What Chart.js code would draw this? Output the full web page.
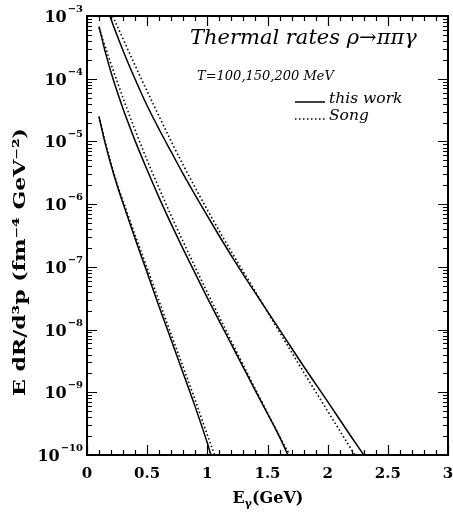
<!DOCTYPE html>
<html>
<head>
    <title>Thermal rates rho -> pi pi gamma</title>
    <script src="https://cdn.jsdelivr.net/npm/chart.js"></script>
    <style>
        body { margin: 0; background: #fff; }
    </style>
</head>
<body>
    <canvas id="rateChart" width="453" height="516"></canvas>

    <script>
        // photon energy (GeV) and rates E dR/d3p (fm^-4 GeV^-2)
        var eT100 = [0.10, 0.15, 0.20, 0.25, 0.30, 0.40, 0.50, 0.60, 0.70, 0.80, 0.90, 1.00, 1.03];
        var thisWorkT100 = [2.45e-5, 9.5e-6, 4.2e-6, 2.0e-6, 1.02e-6, 2.8e-7, 8.1e-8, 2.3e-8, 6.8e-9, 2.0e-9, 5.8e-10, 1.55e-10, 1.0e-10];
        var eSongT100 = [0.10, 0.15, 0.20, 0.25, 0.30, 0.40, 0.50, 0.60, 0.70, 0.80, 0.90, 1.00, 1.06];
        var songT100 = [2.5e-5, 1.0e-5, 4.4e-6, 2.1e-6, 1.12e-6, 3.2e-7, 9.5e-8, 2.8e-8, 8.3e-9, 2.5e-9, 7.4e-10, 2.1e-10, 1.0e-10];

        var eT150 = [0.10, 0.15, 0.20, 0.25, 0.30, 0.35, 0.40, 0.50, 0.60, 0.70, 0.80, 0.90, 1.00, 1.20, 1.40, 1.60, 1.67];
        var thisWorkT150 = [6.8e-4, 2.75e-4, 1.26e-4, 6.3e-5, 3.3e-5, 1.82e-5, 1.02e-5, 3.5e-6, 1.26e-6, 4.8e-7, 1.9e-7, 7.8e-8, 3.2e-8, 5.8e-9, 1.05e-9, 1.95e-10, 1.0e-10];
        var eSongT150 = [0.10, 0.15, 0.20, 0.25, 0.30, 0.35, 0.40, 0.50, 0.60, 0.70, 0.80, 0.90, 1.00, 1.20, 1.40, 1.60, 1.685];
        var songT150 = [6.5e-4, 3.3e-4, 1.7e-4, 9.1e-5, 4.9e-5, 2.7e-5, 1.51e-5, 5.0e-6, 1.78e-6, 6.5e-7, 2.5e-7, 9.8e-8, 3.9e-8, 6.5e-9, 1.12e-9, 2.0e-10, 1.0e-10];

        var eT200 = [0.10, 0.20, 0.30, 0.40, 0.50, 0.60, 0.70, 0.80, 0.90, 1.00, 1.20, 1.40, 1.60, 1.80, 2.00, 2.20, 2.30];
        var thisWorkT200 = [3.5e-3, 8.9e-4, 2.8e-4, 9.8e-5, 3.7e-5, 1.55e-5, 6.8e-6, 3.0e-6, 1.38e-6, 6.5e-7, 1.5e-7, 3.8e-8, 1.0e-8, 2.6e-9, 7.1e-10, 1.9e-10, 1.0e-10];
        var eSongT200 = [0.10, 0.20, 0.30, 0.40, 0.50, 0.60, 0.70, 0.80, 0.90, 1.00, 1.20, 1.40, 1.60, 1.80, 2.00, 2.20, 2.225];
        var songT200 = [4.0e-3, 1.17e-3, 4.3e-4, 1.62e-4, 6.3e-5, 2.5e-5, 1.0e-5, 4.2e-6, 1.82e-6, 8.1e-7, 1.74e-7, 4.0e-8, 9.1e-9, 2.1e-9, 5.0e-10, 1.2e-10, 1.0e-10];

        var xTickValues = [0, 0.5, 1, 1.5, 2, 2.5, 3];
        var xTickLabels = ['0', '0.5', '1', '1.5', '2', '2.5', '3'];
        var yTickExponents = [-3, -4, -5, -6, -7, -8, -9, -10];

        function pairs(xs, ys) {
            return xs.map(function(x, i) { return { x: x, y: ys[i] }; });
        }

        function curve(label, xs, ys, dotted) {
            return {
                label: label,
                data: pairs(xs, ys),
                showLine: true,
                borderColor: '#000',
                borderWidth: dotted ? 1.6 : 1.5,
                borderDash: dotted ? [1.5, 2.5] : [],
                pointRadius: 0,
                cubicInterpolationMode: 'monotone',
                fill: false
            };
        }

        // frame, inward ticks, labels and annotations
        var framePlugin = {
            id: 'frame',
            afterDraw: function(chart) {
                var ctx = chart.ctx;
                var a = chart.chartArea;
                var xs = chart.scales.x;
                var ys = chart.scales.y;
                ctx.save();
                ctx.strokeStyle = '#000';
                ctx.fillStyle = '#000';

                ctx.lineWidth = 1.2;
                ctx.beginPath();
                // x ticks, bottom and top
                for (var i = 0; i <= 30; i++) {
                    var v = i / 10;
                    var px = Math.round(xs.getPixelForValue(v)) + 0.5;
                    var len = (i % 5 === 0) ? 10 : 5;
                    ctx.moveTo(px, a.bottom); ctx.lineTo(px, a.bottom - len);
                    ctx.moveTo(px, a.top); ctx.lineTo(px, a.top + len);
                }
                // y ticks, left and right
                yTickExponents.forEach(function(e) {
                    for (var m = 1; m <= 9; m++) {
                        var val = m * Math.pow(10, e);
                        if (val > 1.0001e-3) continue;
                        var py = Math.round(ys.getPixelForValue(val)) + 0.5;
                        var len = (m === 1) ? 10 : 5;
                        ctx.moveTo(a.left, py); ctx.lineTo(a.left + len, py);
                        ctx.moveTo(a.right, py); ctx.lineTo(a.right - len, py);
                    }
                });
                ctx.stroke();

                ctx.lineWidth = 2;
                ctx.strokeRect(a.left, a.top, a.right - a.left, a.bottom - a.top);

                // x tick labels
                ctx.font = 'bold 15px "DejaVu Serif"';
                ctx.textAlign = 'center';
                ctx.textBaseline = 'alphabetic';
                xTickValues.forEach(function(v, i) {
                    ctx.fillText(xTickLabels[i], xs.getPixelForValue(v), 478);
                });

                // y tick labels 10^e
                yTickExponents.forEach(function(e) {
                    var py = ys.getPixelForValue(Math.pow(10, e));
                    ctx.font = 'bold 10px "DejaVu Serif"';
                    ctx.textAlign = 'right';
                    var sup = '\u2212' + Math.abs(e);
                    var supW = ctx.measureText(sup).width;
                    ctx.fillText(sup, 83, py - 4);
                    ctx.font = 'bold 16px "DejaVu Serif"';
                    ctx.fillText('10', 83 - supW - 1, py + 6);
                });

                // x axis title E_gamma(GeV)
                ctx.font = 'bold 16px "DejaVu Serif"';
                ctx.textAlign = 'left';
                var wE = ctx.measureText('E').width;
                var wRest = ctx.measureText('(GeV)').width;
                ctx.font = 'bold 11px "DejaVu Serif"';
                var wG = ctx.measureText('\u03b3').width;
                var x0 = 268 - (wE + wG + wRest) / 2;
                ctx.font = 'bold 16px "DejaVu Serif"';
                ctx.fillText('E', x0, 503);
                ctx.fillText('(GeV)', x0 + wE + wG, 503);
                ctx.font = 'bold 11px "DejaVu Serif"';
                ctx.fillText('\u03b3', x0 + wE, 507);

                // y axis title, stretched to the span it has in the figure
                var yTitle = 'E dR/d\u00b3p (fm\u207b\u2074 GeV\u207b\u00b2)';
                ctx.save();
                ctx.translate(25, 262);
                ctx.rotate(-Math.PI / 2);
                ctx.font = 'bold 17px "DejaVu Serif"';
                ctx.textAlign = 'center';
                var k = 268 / ctx.measureText(yTitle).width;
                ctx.scale(k, 1);
                ctx.fillText(yTitle, 0, 0);
                ctx.restore();

                // annotations
                ctx.textAlign = 'left';
                ctx.font = 'italic 21px "DejaVu Serif"';
                ctx.fillText('Thermal rates \u03c1\u2192\u03c0\u03c0\u03b3', 190, 44);
                ctx.font = 'italic 13px "DejaVu Serif"';
                ctx.fillText('T=100,150,200 MeV', 197, 80);

                // legend
                ctx.lineWidth = 1.5;
                ctx.beginPath();
                ctx.moveTo(295, 102); ctx.lineTo(325, 102);
                ctx.stroke();
                ctx.setLineDash([1.5, 2.5]);
                ctx.beginPath();
                ctx.moveTo(295, 119); ctx.lineTo(326, 119);
                ctx.stroke();
                ctx.setLineDash([]);
                ctx.font = 'italic 15.5px "DejaVu Serif"';
                ctx.fillText('this work', 329, 103);
                ctx.fillText('Song', 329, 120);

                ctx.restore();
            }
        };

        var ctx = document.getElementById('rateChart').getContext('2d');
        var myChart = new Chart(ctx, {
            type: 'scatter',
            data: {
                datasets: [
                    curve('this work T=100', eT100, thisWorkT100, false),
                    curve('Song T=100', eSongT100, songT100, true),
                    curve('this work T=150', eT150, thisWorkT150, false),
                    curve('Song T=150', eSongT150, songT150, true),
                    curve('this work T=200', eT200, thisWorkT200, false),
                    curve('Song T=200', eSongT200, songT200, true)
                ]
            },
            options: {
                responsive: false,
                animation: false,
                devicePixelRatio: 1,
                layout: { padding: { top: 16, right: 5, left: 0, bottom: 0 } },
                plugins: {
                    legend: { display: false },
                    tooltip: { enabled: false }
                },
                scales: {
                    x: {
                        type: 'linear',
                        min: 0,
                        max: 3,
                        grid: { display: false },
                        border: { display: false },
                        ticks: { display: false },
                        afterFit: function(s) { s.height = 61; }
                    },
                    y: {
                        type: 'logarithmic',
                        min: 1e-10,
                        max: 1e-3,
                        grid: { display: false },
                        border: { display: false },
                        ticks: { display: false },
                        afterFit: function(s) { s.width = 87; }
                    }
                }
            },
            plugins: [framePlugin]
        });
    </script>
</body>
</html>
